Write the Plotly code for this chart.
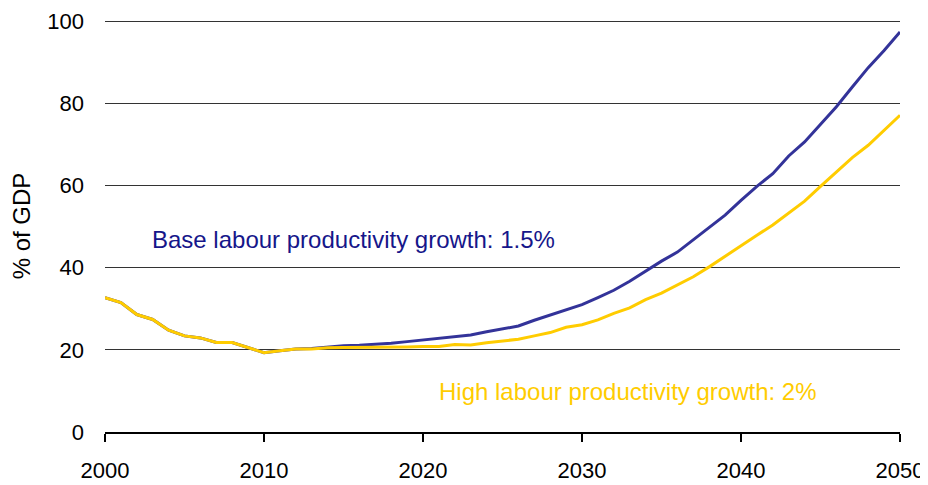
import plotly.graph_objects as go

# years and debt paths (% of GDP)
years = list(range(2000, 2051))

base_growth = [32.7, 31.5, 28.6, 27.4, 24.8, 23.4, 22.9, 21.8, 21.8, 20.6,
               19.3, 19.8, 20.2, 20.3, 20.7, 21.0, 21.1, 21.3, 21.6, 22.0,
               22.4, 22.8, 23.2, 23.6, 24.4, 25.1, 25.8, 27.2, 28.5, 29.7,
               31.0, 32.7, 34.5, 36.7, 39.2, 41.6, 43.8, 46.8, 50.0, 52.8,
               56.4, 59.8, 62.9, 67.2, 70.6, 74.8, 79.2, 84.0, 88.7, 92.9,
               97.4]

high_growth = [32.7, 31.5, 28.6, 27.4, 24.8, 23.4, 22.9, 21.8, 21.8, 20.6,
               19.3, 19.8, 20.2, 20.2, 20.5, 20.6, 20.6, 20.6, 20.7, 20.7,
               20.8, 20.8, 21.3, 21.2, 21.7, 22.1, 22.6, 23.4, 24.2, 25.5,
               26.1, 27.3, 28.9, 30.2, 32.2, 33.8, 35.8, 37.8, 40.2, 42.8,
               45.5, 47.9, 50.4, 53.4, 56.2, 59.8, 63.4, 66.8, 69.8, 73.5,
               77.1]

base_label = "Base labour productivity growth: 1.5%"
high_label = "High labour productivity growth: 2%"

x_ticks = [2000, 2010, 2020, 2030, 2040, 2050]
y_ticks = [0, 20, 40, 60, 80, 100]

BLUE = "#333399"
YELLOW = "#FFCC00"
FONT = "Liberation Sans, Arial, sans-serif"

fig = go.Figure()
fig.add_trace(go.Scatter(x=years, y=base_growth, mode="lines",
                         line={"color": BLUE, "width": 3}, name=base_label))
fig.add_trace(go.Scatter(x=years, y=high_growth, mode="lines",
                         line={"color": YELLOW, "width": 3}, name=high_label))

fig.add_annotation(x=2002.85, y=46.8, text=base_label, showarrow=False,
                   xanchor="left", yanchor="middle",
                   font={"color": "#16168A", "size": 24, "family": FONT})
fig.add_annotation(x=2020.85, y=9.8, text=high_label, showarrow=False,
                   xanchor="left", yanchor="middle",
                   font={"color": YELLOW, "size": 24, "family": FONT})

# page body keeps its 8px margin, so the figure is 8px smaller and the
# left/top margins are 8px less to land the plot where the reference has it
fig.update_layout({
    "width": 920,
    "height": 477,
    "margin": {"l": 97, "r": 28, "t": 12, "b": 53},
    "paper_bgcolor": "white",
    "plot_bgcolor": "white",
    "showlegend": False,
    "font": {"family": FONT, "size": 22, "color": "black"},
    "xaxis": {
        "range": [2000, 2050],
        "tickvals": x_ticks,
        "ticks": "outside",
        "ticklen": 8,
        "tickwidth": 1.5,
        "tickcolor": "black",
        "showline": True,
        "linecolor": "black",
        "linewidth": 2,
        "showgrid": False,
        "zeroline": False,
        "ticklabelstandoff": 10,
        "automargin": False,
    },
    "yaxis": {
        "range": [0, 100.3],
        "tickvals": y_ticks,
        "showgrid": True,
        "gridcolor": "#333333",
        "gridwidth": 1,
        "zeroline": False,
        "showline": False,
        "ticks": "",
        "ticklabelstandoff": 20,
        "automargin": False,
        "title": {"text": "% of GDP", "font": {"size": 24}, "standoff": 14},
    },
})

fig.write_html("out.html")
